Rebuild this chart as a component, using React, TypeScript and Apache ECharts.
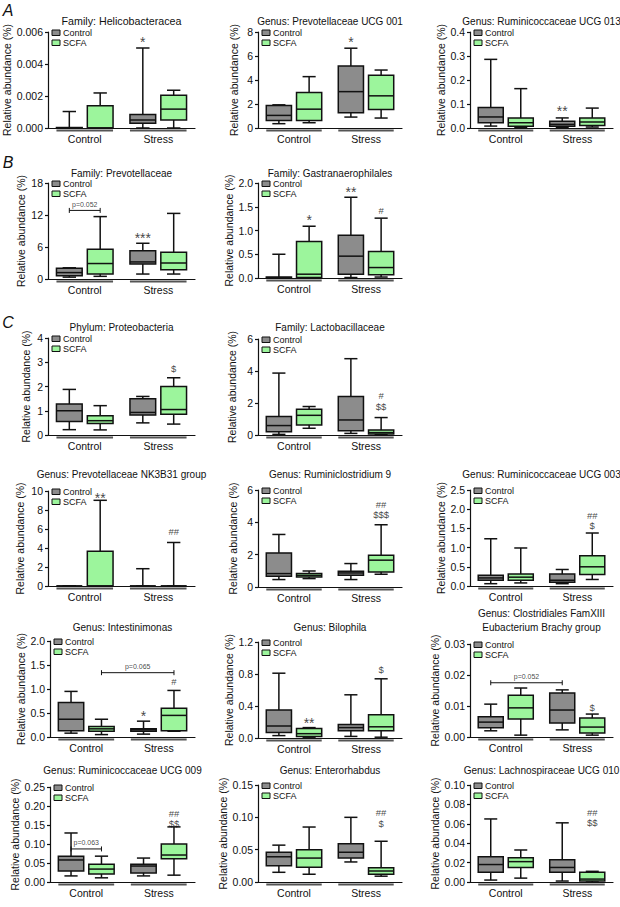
import React, { useEffect, useRef } from 'react';
import * as echarts from 'echarts';

const groupLabels = ['Control', 'Stress'];
const legendLabels = ['Control', 'SCFA'];

// Box statistics: [min, q1, median, q3, max]; first entry = Control group, second = Stress group
const helicoControl = [[0, 0, 0, 0.00003, 0.00103], [0, 0.0003, 0.0005, 0.00085, 0.005]];
const helicoSCFA = [[0, 0, 0, 0.00139, 0.00219], [0, 0.0005, 0.00118, 0.00204, 0.00236]];
const helicoMarks = [[1, 0, 0.00555, '*']];

const prevUcg001Control = [[0.36, 0.63, 1.05, 1.88, 1.93], [0.91, 1.27, 3.03, 5.16, 6.65]];
const prevUcg001SCFA = [[0.44, 0.63, 1.57, 2.95, 4.28], [0.83, 1.54, 2.68, 4.39, 4.83]];
const prevUcg001Marks = [[1, 0, 7.4, '*']];

const rumUcg013Control = [[0.008, 0.022, 0.046, 0.085, 0.286], [0.003, 0.007, 0.015, 0.028, 0.042]];
const rumUcg013SCFA = [[0.003, 0.007, 0.022, 0.042, 0.164], [0.004, 0.01, 0.025, 0.042, 0.083]];
const rumUcg013Marks = [[1, 0, 0.083, '**']];

const prevotellaceaeControl = [[0.35, 0.6, 1.2, 2.0, 2.1], [0.93, 2.8, 3.2, 5.3, 6.7]];
const prevotellaceaeSCFA = [[0.5, 0.93, 2.9, 5.6, 11.7], [0.93, 1.74, 3.0, 5.0, 12.3]];
const prevotellaceaeMarks = [[1, 0, 8.3, '***']];
const prevotellaceaeBrackets = [[0, 0, 0, 1, 12.86, 'p=0.052']];

const gastranControl = [[0, 0, 0.01, 0.02, 0.5], [0.01, 0.08, 0.46, 0.9, 1.7]];
const gastranSCFA = [[0, 0.01, 0.08, 0.77, 1.09], [0.02, 0.07, 0.22, 0.56, 1.26]];
const gastranMarks = [[0, 1, 1.28, '*'], [1, 0, 1.88, '**'], [1, 1, 1.42, '#']];

const proteoControl = [[0.22, 0.56, 1.0, 1.28, 1.88], [0.5, 0.82, 0.93, 1.49, 1.59]];
const proteoSCFA = [[0.21, 0.47, 0.59, 0.79, 1.21], [0.45, 0.86, 1.05, 2.0, 2.36]];
const proteoMarks = [[1, 1, 2.75, '$']];

const lactoControl = [[0.04, 0.21, 0.59, 1.15, 3.87], [0.1, 0.27, 0.94, 2.41, 4.77]];
const lactoSCFA = [[0.42, 0.63, 1.23, 1.61, 1.78], [0.02, 0.06, 0.15, 0.31, 1.09]];
const lactoMarks = [[1, 1, 2.45, '#'], [1, 1, 1.78, '$$']];

const nk3b31Control = [[0, 0, 0, 0, 0], [0, 0, 0, 0, 1.82]];
const nk3b31SCFA = [[0, 0, 0, 3.67, 9.02], [0, 0, 0, 0, 4.58]];
const nk3b31Marks = [[0, 1, 9.55, '**'], [1, 1, 5.7, '##']];

const rumini9Control = [[0.46, 0.66, 0.83, 2.11, 3.25], [0.46, 0.72, 0.87, 0.97, 1.45]];
const rumini9SCFA = [[0.52, 0.62, 0.72, 0.83, 0.99], [0.79, 0.93, 1.66, 1.97, 3.85]];
const rumini9Marks = [[1, 1, 5.13, '##'], [1, 1, 4.49, '$$$']];

const rumUcg003Control = [[0.06, 0.15, 0.21, 0.28, 1.23], [0.06, 0.1, 0.15, 0.31, 0.43]];
const rumUcg003SCFA = [[0.08, 0.15, 0.23, 0.31, 0.99], [0.17, 0.3, 0.5, 0.79, 1.38]];
const rumUcg003Marks = [[1, 1, 1.83, '##'], [1, 1, 1.58, '$']];

const intestControl = [[0.08, 0.13, 0.37, 0.72, 0.95], [0.06, 0.12, 0.15, 0.17, 0.33]];
const intestSCFA = [[0.05, 0.12, 0.17, 0.22, 0.37], [0.12, 0.13, 0.45, 0.6, 0.97]];
const intestMarks = [[1, 0, 0.5, '*'], [1, 1, 1.16, '#']];
const intestBrackets = [[0, 1, 1, 1, 1.34, 'p=0.065']];

const bilophilaControl = [[0.03, 0.07, 0.15, 0.35, 0.81], [0.02, 0.09, 0.13, 0.17, 0.54]];
const bilophilaSCFA = [[0.01, 0.02, 0.054, 0.12, 0.13], [0.01, 0.09, 0.14, 0.29, 0.74]];
const bilophilaMarks = [[0, 1, 0.22, '**'], [1, 1, 0.86, '$']];

const clostControl = [[0.002, 0.003, 0.0048, 0.0065, 0.0106], [0.0023, 0.0045, 0.0087, 0.0142, 0.0152]];
const clostSCFA = [[0.0006, 0.0058, 0.0094, 0.0135, 0.0158], [0.0006, 0.0013, 0.0032, 0.0061, 0.0074]];
const clostMarks = [[1, 1, 0.0095, '$']];
const clostBrackets = [[0, 0, 1, 0, 0.0175, 'p=0.052']];

const rumUcg009Control = [[0.016, 0.029, 0.058, 0.068, 0.129], [0.016, 0.024, 0.042, 0.047, 0.063]];
const rumUcg009SCFA = [[0.011, 0.021, 0.034, 0.047, 0.068], [0.018, 0.061, 0.071, 0.1, 0.145]];
const rumUcg009Marks = [[1, 1, 0.18, '##'], [1, 1, 0.153, '$$']];
const rumUcg009Brackets = [[0, 0, 0, 1, 0.087, 'p=0.063']];

const enteroControl = [[0.015, 0.025, 0.039, 0.046, 0.057], [0.031, 0.037, 0.046, 0.059, 0.1]];
const enteroSCFA = [[0.012, 0.023, 0.037, 0.05, 0.085], [0.009, 0.012, 0.017, 0.022, 0.063]];
const enteroMarks = [[1, 1, 0.108, '##'], [1, 1, 0.091, '$']];

const lachnoControl = [[0.002, 0.01, 0.018, 0.026, 0.065], [0.001, 0.01, 0.015, 0.023, 0.061]];
const lachnoSCFA = [[0.004, 0.015, 0.021, 0.025, 0.033], [0, 0.001, 0.003, 0.01, 0.011]];
const lachnoMarks = [[1, 1, 0.072, '##'], [1, 1, 0.061, '$$']];

const FONT = '"Liberation Sans", Arial, Helvetica, sans-serif';
const GRAY = '#8c8c8c';
const GREEN = '#9cf59c';
const INK = '#111111';

// layout constants (fractions of one category band)
const OFF = 0.21;
const BOXW = 0.35;

type Panel = {
  title: string[];
  control: number[][];
  scfa: number[][];
  max: number;
  interval: number;
  dec: number;
  marks: any[];
  brackets?: any[];
  left: number;
  top: number;
  width: number;
  height: number;
  titleY: number;
  titleSize: number;
  nameGap: number;
};

const panels: Panel[] = [
  { title: ['Family: Helicobacteracea'], control: helicoControl, scfa: helicoSCFA, max: 0.006, interval: 0.002, dec: 3, marks: helicoMarks, left: 48, top: 32, width: 147, height: 96, titleY: 21, titleSize: 10.7, nameGap: 33 },
  { title: ['Genus: Prevotellaceae UCG 001'], control: prevUcg001Control, scfa: prevUcg001SCFA, max: 8, interval: 2, dec: 0, marks: prevUcg001Marks, left: 258, top: 32, width: 144, height: 96, titleY: 21, titleSize: 10, nameGap: 19 },
  { title: ['Genus: Ruminicoccaceae UCG 013'], control: rumUcg013Control, scfa: rumUcg013SCFA, max: 0.4, interval: 0.1, dec: 1, marks: rumUcg013Marks, left: 470, top: 32, width: 143, height: 96, titleY: 21, titleSize: 10, nameGap: 23 },
  { title: ['Family: Prevotellaceae'], control: prevotellaceaeControl, scfa: prevotellaceaeSCFA, max: 18, interval: 6, dec: 0, marks: prevotellaceaeMarks, brackets: prevotellaceaeBrackets, left: 48, top: 183, width: 147, height: 96, titleY: 173, titleSize: 10, nameGap: 22 },
  { title: ['Family: Gastranaerophilales'], control: gastranControl, scfa: gastranSCFA, max: 2, interval: 0.5, dec: 1, marks: gastranMarks, left: 258, top: 183, width: 144, height: 95, titleY: 173, titleSize: 10, nameGap: 19 },
  { title: ['Phylum: Proteobacteria'], control: proteoControl, scfa: proteoSCFA, max: 4, interval: 1, dec: 0, marks: proteoMarks, left: 48, top: 338, width: 147, height: 97, titleY: 327, titleSize: 10, nameGap: 17 },
  { title: ['Family: Lactobacillaceae'], control: lactoControl, scfa: lactoSCFA, max: 6, interval: 2, dec: 0, marks: lactoMarks, left: 258, top: 339, width: 144, height: 96, titleY: 327, titleSize: 10, nameGap: 21 },
  { title: ['Genus: Prevotellaceae NK3B31 group'], control: nk3b31Control, scfa: nk3b31SCFA, max: 10, interval: 2, dec: 0, marks: nk3b31Marks, left: 48, top: 491, width: 147, height: 95, titleY: 474, titleSize: 10, nameGap: 23 },
  { title: ['Genus: Ruminiclostridium 9'], control: rumini9Control, scfa: rumini9SCFA, max: 6, interval: 2, dec: 0, marks: rumini9Marks, left: 258, top: 490, width: 144, height: 97, titleY: 474, titleSize: 10, nameGap: 20 },
  { title: ['Genus: Ruminicoccaceae UCG 003'], control: rumUcg003Control, scfa: rumUcg003SCFA, max: 2.5, interval: 0.5, dec: 1, marks: rumUcg003Marks, left: 470, top: 490, width: 143, height: 96, titleY: 474, titleSize: 10, nameGap: 24 },
  { title: ['Genus: Intestinimonas'], control: intestControl, scfa: intestSCFA, max: 2, interval: 0.5, dec: 1, marks: intestMarks, brackets: intestBrackets, left: 50, top: 641, width: 145, height: 96, titleY: 627, titleSize: 10, nameGap: 22 },
  { title: ['Genus: Bilophila'], control: bilophilaControl, scfa: bilophilaSCFA, max: 1.2, interval: 0.4, dec: 1, marks: bilophilaMarks, left: 258, top: 642, width: 144, height: 96, titleY: 627, titleSize: 10, nameGap: 20 },
  { title: ['Genus: Clostridiales FamXIII', 'Eubacterium Brachy group'], control: clostControl, scfa: clostSCFA, max: 0.03, interval: 0.01, dec: 2, marks: clostMarks, brackets: clostBrackets, left: 470, top: 644, width: 143, height: 93, titleY: 613, titleSize: 10, nameGap: 25 },
  { title: ['Genus: Ruminicoccaceae UCG 009'], control: rumUcg009Control, scfa: rumUcg009SCFA, max: 0.25, interval: 0.05, dec: 2, marks: rumUcg009Marks, brackets: rumUcg009Brackets, left: 50, top: 787, width: 145, height: 95, titleY: 770, titleSize: 10, nameGap: 30 },
  { title: ['Genus: Enterorhabdus'], control: enteroControl, scfa: enteroSCFA, max: 0.15, interval: 0.05, dec: 2, marks: enteroMarks, left: 258, top: 785, width: 144, height: 97, titleY: 770, titleSize: 10, nameGap: 21 },
  { title: ['Genus: Lachnospiraceae UCG 010'], control: lachnoControl, scfa: lachnoSCFA, max: 0.1, interval: 0.02, dec: 2, marks: lachnoMarks, left: 470, top: 785, width: 143, height: 97, titleY: 770, titleSize: 10, nameGap: 23 },
];

const panelLetters = [
  { text: 'A', x: 8, y: 10 },
  { text: 'B', x: 8, y: 162 },
  { text: 'C', x: 8, y: 322 },
];

function geom(api: any, g: number, s: number) {
  const bw = api.size([1, 0])[0];
  const c = api.coord([g, 0]);
  const off = bw * OFF;
  return { cx: c[0] + (s === 0 ? -off : off), boxW: bw * BOXW, off, bw, y0: c[1] };
}

function buildOption() {
  const grid: any[] = [];
  const xAxis: any[] = [];
  const yAxis: any[] = [];
  const series: any[] = [];
  const graphic: any[] = [];

  panels.forEach((p, i) => {
    grid.push({ left: p.left, top: p.top, width: p.width, height: p.height });
    xAxis.push({
      type: 'category', gridIndex: i, data: groupLabels, boundaryGap: true,
      axisLine: { show: true, lineStyle: { color: INK, width: 1.2 } },
      axisTick: { show: false },
      axisLabel: { fontSize: 10.5, color: INK, fontFamily: FONT, margin: 5 },
      splitLine: { show: false },
    });
    yAxis.push({
      type: 'value', gridIndex: i, min: 0, max: p.max, interval: p.interval,
      name: 'Relative abundance (%)', nameLocation: 'middle', nameGap: p.nameGap,
      nameTextStyle: { fontSize: 10.5, color: INK, fontFamily: FONT },
      axisLine: { show: true, lineStyle: { color: INK, width: 1.2 } },
      axisTick: { show: true, length: 3, lineStyle: { color: INK, width: 1.2 } },
      axisLabel: { fontSize: 10.5, color: INK, fontFamily: FONT, margin: 5, formatter: (v: number) => v.toFixed(p.dec) },
      splitLine: { show: false },
    });

    const brackets = p.brackets || [];

    // boxes, group underlines and brackets
    const boxData: number[][] = [];
    p.control.forEach((b, g) => boxData.push([g, 0, ...b]));
    p.scfa.forEach((b, g) => boxData.push([g, 1, ...b]));
    series.push({
      type: 'custom', xAxisIndex: i, yAxisIndex: i, silent: true,
      itemStyle: { color: INK },
      encode: { x: 0, y: [2, 3, 4, 5, 6] },
      data: boxData,
      renderItem: (params: any, api: any) => {
        const g = api.value(0);
        const s = api.value(1);
        const { cx, boxW, off, y0 } = geom(api, g, s);
        const y = (v: number) => api.coord([g, v])[1];
        const yMin = y(api.value(2)), yQ1 = y(api.value(3)), yMed = y(api.value(4)), yQ3 = y(api.value(5)), yMax = y(api.value(6));
        const cap = boxW * 0.52;
        const ls = { stroke: INK, lineWidth: 1.5 };
        const children: any[] = [];
        if (s === 0) {
          const gc = api.coord([g, 0])[0];
          children.push({ type: 'line', shape: { x1: gc - off - boxW / 2, y1: y0 + 2.5, x2: gc + off + boxW / 2, y2: y0 + 2.5 }, style: { stroke: '#555555', lineWidth: 2 } });
        }
        children.push(
          { type: 'line', shape: { x1: cx, y1: yMax, x2: cx, y2: yMin }, style: ls },
          { type: 'line', shape: { x1: cx - cap / 2, y1: yMax, x2: cx + cap / 2, y2: yMax }, style: ls },
          { type: 'line', shape: { x1: cx - cap / 2, y1: yMin, x2: cx + cap / 2, y2: yMin }, style: ls },
          { type: 'rect', shape: { x: cx - boxW / 2, y: yQ3, width: boxW, height: Math.max(yQ1 - yQ3, 0) }, style: { fill: s === 0 ? GRAY : GREEN, stroke: INK, lineWidth: 1.5 } },
          { type: 'line', shape: { x1: cx - boxW / 2, y1: yMed, x2: cx + boxW / 2, y2: yMed }, style: ls },
        );
        if (params.dataIndex === 0) {
          brackets.forEach((b: any[]) => {
            const a = geom(api, b[0], b[1]).cx;
            const e = geom(api, b[2], b[3]).cx;
            const yy = api.coord([b[0], b[4]])[1];
            const bs = { stroke: INK, lineWidth: 1 };
            children.push(
              { type: 'line', shape: { x1: a, y1: yy, x2: e, y2: yy }, style: bs },
              { type: 'line', shape: { x1: a, y1: yy - 2.5, x2: a, y2: yy + 2.5 }, style: bs },
              { type: 'line', shape: { x1: e, y1: yy - 2.5, x2: e, y2: yy + 2.5 }, style: bs },
            );
          });
        }
        return { type: 'group', children };
      },
    });

    // significance marks and bracket labels as scatter labels
    const bw = p.width / 2;
    const markData: any[] = p.marks.map((m) => {
      const star = String(m[3]).indexOf('*') >= 0;
      const fs = star ? 14 : 9.5;
      return {
        value: [m[0], m[2]],
        label: { formatter: m[3], fontSize: fs, offset: [(m[1] === 0 ? -1 : 1) * bw * OFF, star ? fs * 0.22 : 0] },
      };
    });
    brackets.forEach((b: any[]) => {
      const xa = b[0] * bw + (b[1] === 0 ? -1 : 1) * bw * OFF;
      const xb = b[2] * bw + (b[3] === 0 ? -1 : 1) * bw * OFF;
      const mid = (xa + xb) / 2 - b[0] * bw;
      markData.push({ value: [b[0], b[4]], label: { formatter: b[5], fontSize: 7, offset: [mid, -6] } });
    });
    series.push({
      type: 'scatter', xAxisIndex: i, yAxisIndex: i, silent: true,
      symbolSize: 0, itemStyle: { color: INK },
      label: { show: true, position: 'inside', color: INK, fontFamily: FONT, align: 'center', verticalAlign: 'middle' },
      data: markData,
    });

    // titles
    p.title.forEach((t, k) => {
      graphic.push({
        type: 'text', x: p.left + p.width / 2, y: p.titleY + k * 14,
        style: { text: t, fontSize: p.titleSize, fontFamily: FONT, fill: INK, align: 'center', verticalAlign: 'middle' },
      });
    });

    // legend
    const lx = p.left + 4;
    const ly = p.top - 2;
    legendLabels.forEach((name, k) => {
      graphic.push({
        type: 'rect', shape: { x: lx, y: ly + k * 10, width: 8, height: 5.5 },
        style: { fill: k === 0 ? GRAY : GREEN, stroke: INK, lineWidth: 1 },
      });
      graphic.push({
        type: 'text', x: lx + 11, y: ly + k * 10 + 3,
        style: { text: name, fontSize: 9, fontFamily: FONT, fill: INK, align: 'left', verticalAlign: 'middle' },
      });
    });
  });

  panelLetters.forEach((l) => {
    graphic.push({
      type: 'text', x: l.x, y: l.y,
      style: { text: l.text, fontSize: 16, fontStyle: 'italic', fontFamily: FONT, fill: INK, align: 'center', verticalAlign: 'middle' },
    });
  });

  return { animation: false, backgroundColor: '#ffffff', grid, xAxis, yAxis, series, graphic };
}

export default function App() {
  const ref = useRef<HTMLDivElement>(null);
  useEffect(() => {
    if (!ref.current) return;
    const chart = echarts.init(ref.current, undefined, { renderer: 'svg' });
    chart.setOption(buildOption() as any);
    return () => chart.dispose();
  }, []);
  return <div ref={ref} style={{ position: 'fixed', left: 0, top: 0, width: 620, height: 907 }} />;
}
